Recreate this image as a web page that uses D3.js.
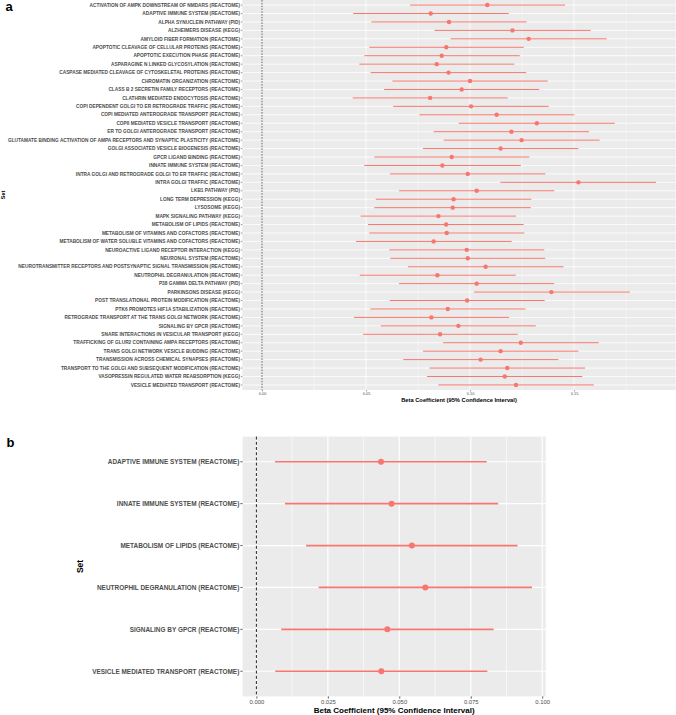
<!DOCTYPE html>
<html>
<head>
<meta charset="utf-8">
<script src="https://cdn.jsdelivr.net/npm/d3@7"></script>
<style>
  html, body { margin: 0; padding: 0; background: #fff; }
  svg { display: block; font-family: "Liberation Sans", Arial, Helvetica, sans-serif; }
</style>
</head>
<body>
<svg id="chart" width="676" height="715"></svg>
<script>
// ---------------- DATA ----------------
const setsA = [
  "ACTIVATION OF AMPK DOWNSTREAM OF NMDARS (REACTOME)",
  "ADAPTIVE IMMUNE SYSTEM (REACTOME)",
  "ALPHA SYNUCLEIN PATHWAY (PID)",
  "ALZHEIMERS DISEASE (KEGG)",
  "AMYLOID FIBER FORMATION (REACTOME)",
  "APOPTOTIC CLEAVAGE OF CELLULAR PROTEINS (REACTOME)",
  "APOPTOTIC EXECUTION PHASE (REACTOME)",
  "ASPARAGINE N LINKED GLYCOSYLATION (REACTOME)",
  "CASPASE MEDIATED CLEAVAGE OF CYTOSKELETAL PROTEINS (REACTOME)",
  "CHROMATIN ORGANIZATION (REACTOME)",
  "CLASS B 2 SECRETIN FAMILY RECEPTORS (REACTOME)",
  "CLATHRIN MEDIATED ENDOCYTOSIS (REACTOME)",
  "COPI DEPENDENT GOLGI TO ER RETROGRADE TRAFFIC (REACTOME)",
  "COPI MEDIATED ANTEROGRADE TRANSPORT (REACTOME)",
  "COPII MEDIATED VESICLE TRANSPORT (REACTOME)",
  "ER TO GOLGI ANTEROGRADE TRANSPORT (REACTOME)",
  "GLUTAMATE BINDING ACTIVATION OF AMPA RECEPTORS AND SYNAPTIC PLASTICITY (REACTOME)",
  "GOLGI ASSOCIATED VESICLE BIOGENESIS (REACTOME)",
  "GPCR LIGAND BINDING (REACTOME)",
  "INNATE IMMUNE SYSTEM (REACTOME)",
  "INTRA GOLGI AND RETROGRADE GOLGI TO ER TRAFFIC (REACTOME)",
  "INTRA GOLGI TRAFFIC (REACTOME)",
  "LKB1 PATHWAY (PID)",
  "LONG TERM DEPRESSION (KEGG)",
  "LYSOSOME (KEGG)",
  "MAPK SIGNALING PATHWAY (KEGG)",
  "METABOLISM OF LIPIDS (REACTOME)",
  "METABOLISM OF VITAMINS AND COFACTORS (REACTOME)",
  "METABOLISM OF WATER SOLUBLE VITAMINS AND COFACTORS (REACTOME)",
  "NEUROACTIVE LIGAND RECEPTOR INTERACTION (KEGG)",
  "NEURONAL SYSTEM (REACTOME)",
  "NEUROTRANSMITTER RECEPTORS AND POSTSYNAPTIC SIGNAL TRANSMISSION (REACTOME)",
  "NEUTROPHIL DEGRANULATION (REACTOME)",
  "P38 GAMMA DELTA PATHWAY (PID)",
  "PARKINSONS DISEASE (KEGG)",
  "POST TRANSLATIONAL PROTEIN MODIFICATION (REACTOME)",
  "PTK6 PROMOTES HIF1A STABILIZATION (REACTOME)",
  "RETROGRADE TRANSPORT AT THE TRANS GOLGI NETWORK (REACTOME)",
  "SIGNALING BY GPCR (REACTOME)",
  "SNARE INTERACTIONS IN VESICULAR TRANSPORT (KEGG)",
  "TRAFFICKING OF GLUR2 CONTAINING AMPA RECEPTORS (REACTOME)",
  "TRANS GOLGI NETWORK VESICLE BUDDING (REACTOME)",
  "TRANSMISSION ACROSS CHEMICAL SYNAPSES (REACTOME)",
  "TRANSPORT TO THE GOLGI AND SUBSEQUENT MODIFICATION (REACTOME)",
  "VASOPRESSIN REGULATED WATER REABSORPTION (KEGG)",
  "VESICLE MEDIATED TRANSPORT (REACTOME)"
];
const betaA = [0.1083,0.0811,0.0899,0.1204,0.1282,0.0886,0.0864,0.0840,0.0897,0.1000,
               0.0960,0.0808,0.1005,0.1128,0.1321,0.1199,0.1248,0.1147,0.0912,0.0867,
               0.0989,0.1521,0.1032,0.0921,0.0917,0.0848,0.0885,0.0888,0.0825,0.0984,
               0.0989,0.1075,0.0843,0.1032,0.1391,0.0986,0.0893,0.0814,0.0944,0.0856,
               0.1244,0.1147,0.1051,0.1179,0.1167,0.1221];
const lowerA = [0.0712,0.0439,0.0526,0.0829,0.0907,0.0516,0.0492,0.0468,0.0522,0.0627,
                0.0587,0.0436,0.0631,0.0756,0.0946,0.0825,0.0873,0.0774,0.0540,0.0492,
                0.0615,0.1146,0.0659,0.0547,0.0540,0.0474,0.0510,0.0516,0.0452,0.0612,
                0.0617,0.0702,0.0470,0.0659,0.1019,0.0614,0.0521,0.0442,0.0571,0.0486,
                0.0870,0.0774,0.0679,0.0806,0.0793,0.0848];
const upperA = [0.1457,0.1186,0.1272,0.1580,0.1657,0.1258,0.1239,0.1213,0.1270,0.1373,
                0.1333,0.1181,0.1378,0.1502,0.1696,0.1572,0.1623,0.1521,0.1285,0.1244,
                0.1362,0.1894,0.1405,0.1295,0.1292,0.1221,0.1258,0.1261,0.1200,0.1357,
                0.1362,0.1449,0.1220,0.1405,0.1768,0.1359,0.1266,0.1188,0.1316,0.1229,
                0.1619,0.1521,0.1425,0.1553,0.1540,0.1595];
const ticksA = [0, 0.05, 0.10, 0.15];
const tickLabelsA = ["0.00", "0.05", "0.10", "0.15"];

const setsB = [
  "ADAPTIVE IMMUNE SYSTEM (REACTOME)",
  "INNATE IMMUNE SYSTEM (REACTOME)",
  "METABOLISM OF LIPIDS (REACTOME)",
  "NEUTROPHIL DEGRANULATION (REACTOME)",
  "SIGNALING BY GPCR (REACTOME)",
  "VESICLE MEDIATED TRANSPORT (REACTOME)"
];
const betaB  = [0.0436, 0.0473, 0.0544, 0.0591, 0.0458, 0.0437];
const lowerB = [0.0065, 0.0100, 0.0174, 0.0218, 0.0087, 0.0066];
const upperB = [0.0806, 0.0846, 0.0914, 0.0964, 0.0830, 0.0808];
const ticksB = [0, 0.025, 0.050, 0.075, 0.100];
const tickLabelsB = ["0.000", "0.025", "0.050", "0.075", "0.100"];

const xTitle = "Beta Coefficient (95% Confidence Interval)";
const yTitle = "Set";
// --------------------------------------

const svg = d3.select("#chart");
svg.append("rect").attr("width", 676).attr("height", 715).attr("fill", "#fff");

const RED = "#F8766D";

function fitFont(texts, weight, targetWidth) {
  const t = svg.append("text").attr("font-size", 10).attr("font-weight", weight);
  let maxW = 0;
  texts.forEach(s => { t.text(s); maxW = Math.max(maxW, t.node().getComputedTextLength()); });
  t.remove();
  return 10 * targetWidth / maxW;
}

function panel(cfg) {
  const { sets, beta, lower, upper, ticks, tickLabels, x0, x1, y0, y1,
          labelRight, labelTarget, s } = cfg;
  const g = svg.append("g");
  const maxHi = d3.max(upper), minLo = Math.min(0, d3.min(lower));
  const pad = (maxHi - minLo) * 0.05;
  const x = d3.scaleLinear().domain([minLo - pad, maxHi + pad]).range([x0, x1]);
  const y = d3.scalePoint().domain(sets).range([y0, y1]).padding(0.6);

  g.append("rect").attr("x", x0).attr("y", y0).attr("width", x1 - x0).attr("height", y1 - y0)
    .attr("fill", "#EBEBEB");

  // minor gridlines at midpoints
  const step = ticks[1] - ticks[0];
  const minor = [];
  for (let i = -1; i < ticks.length + 1; i++) {
    const v = ticks[0] + (i + 0.5) * step;
    if (x(v) > x0 && x(v) < x1) minor.push(v);
  }
  g.selectAll(".minor").data(minor).join("line")
    .attr("x1", d => x(d)).attr("x2", d => x(d)).attr("y1", y0).attr("y2", y1)
    .attr("stroke", "#fff").attr("stroke-width", s.minorW);
  g.selectAll(".major").data(ticks).join("line")
    .attr("x1", d => x(d)).attr("x2", d => x(d)).attr("y1", y0).attr("y2", y1)
    .attr("stroke", "#fff").attr("stroke-width", s.majorW);
  g.selectAll(".hgrid").data(sets).join("line")
    .attr("x1", x0).attr("x2", x1).attr("y1", d => y(d)).attr("y2", d => y(d))
    .attr("stroke", "#fff").attr("stroke-width", s.majorW);

  // zero reference line
  g.append("line").attr("x1", x(0)).attr("x2", x(0)).attr("y1", y0).attr("y2", y1)
    .attr("stroke", "#222").attr("stroke-width", s.vW).attr("stroke-dasharray", s.dash);

  // CI segments and points
  g.selectAll(".ci").data(sets).join("line")
    .attr("x1", (d, i) => x(lower[i])).attr("x2", (d, i) => x(upper[i]))
    .attr("y1", d => y(d)).attr("y2", d => y(d))
    .attr("stroke", RED).attr("stroke-width", s.segW);
  g.selectAll(".pt").data(sets).join("circle")
    .attr("cx", (d, i) => x(beta[i])).attr("cy", d => y(d)).attr("r", s.r)
    .attr("fill", RED);

  // y axis labels + ticks
  const fs = fitFont(sets, "bold", labelTarget);
  g.selectAll(".ytick").data(sets).join("line")
    .attr("x1", x0 - s.tickLen).attr("x2", x0).attr("y1", d => y(d)).attr("y2", d => y(d))
    .attr("stroke", "#333").attr("stroke-width", s.tickW);
  g.selectAll(".ylab").data(sets).join("text")
    .attr("x", labelRight).attr("y", d => y(d)).attr("dy", "0.35em")
    .attr("text-anchor", "end").attr("font-size", fs).attr("font-weight", "bold")
    .attr("fill", "#4D4D4D").text(d => d);

  // x axis
  const ax = g.append("g").attr("transform", `translate(0,${y1})`)
    .call(d3.axisBottom(x).tickValues(ticks).tickFormat((d, i) => tickLabels[i])
      .tickSize(s.tickLen).tickPadding(s.tickPad));
  ax.select(".domain").remove();
  ax.selectAll("line").attr("stroke", "#333").attr("stroke-width", s.tickW);
  ax.selectAll("text").attr("font-size", s.tickFs).attr("fill", "#4D4D4D")
    .attr("font-family", "Liberation Sans, Arial, sans-serif");

  g.append("text").attr("x", (x0 + x1) / 2).attr("y", s.titleY)
    .attr("text-anchor", "middle").attr("font-size", s.titleFs).attr("font-weight", "bold")
    .attr("fill", "#000").text(xTitle);
  g.append("text").attr("transform", `translate(${s.setX},${(y0 + y1) / 2}) rotate(-90)`)
    .attr("text-anchor", "middle").attr("dy", "0.35em")
    .attr("font-size", s.setFs).attr("font-weight", "bold").attr("fill", "#000").text(yTitle);
}

panel({
  sets: setsA, beta: betaA, lower: lowerA, upper: upperA, ticks: ticksA, tickLabels: tickLabelsA,
  x0: 242.3, x1: 675.7, y0: 0, y1: 390, labelRight: 240, labelTarget: 232.7,
  s: { minorW: 0.4, majorW: 0.8, vW: 0.7, dash: "1.6,1.2", segW: 1, r: 2.2,
       tickLen: 1.3, tickW: 0.5, tickPad: 1, tickFs: 3.9, titleFs: 5.75, titleY: 401.5,
       setX: 3.5, setFs: 5.4 }
});

panel({
  sets: setsB, beta: betaB, lower: lowerB, upper: upperB, ticks: ticksB, tickLabels: tickLabelsB,
  x0: 242.6, x1: 545.7, y0: 436.6, y1: 696.4, labelRight: 239.3, labelTarget: 147.6,
  s: { minorW: 0.6, majorW: 1.2, vW: 1, dash: "3,2.2", segW: 1.7, r: 3,
       tickLen: 2.2, tickW: 0.8, tickPad: 1.3, tickFs: 5.9, titleFs: 8, titleY: 713,
       setX: 80, setFs: 8.5 }
});

svg.append("text").attr("x", 5.5).attr("y", 11).attr("font-size", 13).attr("font-weight", "bold")
  .attr("fill", "#000").text("a");
svg.append("text").attr("x", 6.5).attr("y", 447).attr("font-size", 13).attr("font-weight", "bold")
  .attr("fill", "#000").text("b");
</script>
</body>
</html>
